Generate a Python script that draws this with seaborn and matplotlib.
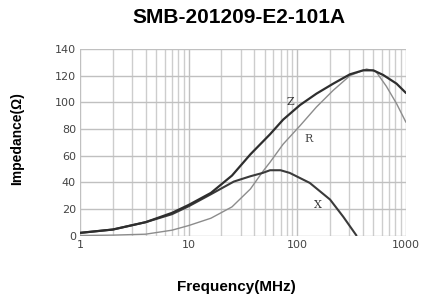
import numpy as np
import pandas as pd
import matplotlib
matplotlib.use("Agg")
import matplotlib.pyplot as plt
import seaborn as sns
from matplotlib.ticker import LogLocator, FixedLocator, NullFormatter

# 阻抗曲线数据
freq_z = [1, 2, 4, 7, 10, 16, 25, 37, 56, 74, 106, 150, 214, 305, 404, 500, 617, 819, 1000]
z_vals = [2, 4.5, 10, 17, 23, 32, 45, 61, 76, 87, 98, 106.5, 114, 121, 124, 124, 120.5, 114, 107]

freq_r = [1, 2, 4, 7, 10, 16, 25, 37, 48, 56, 74, 106, 150, 214, 305, 434, 530, 660, 819, 1000]
r_vals = [0, 0.3, 1, 4, 7.5, 13, 21.5, 35, 48, 55, 68.6, 82.5, 96.5, 109, 120, 125, 123, 112, 99, 85]

freq_x = [1, 2, 4, 7, 10, 16, 26, 37, 48, 56, 70, 85, 130, 200, 265, 350]
x_vals = [2, 4.5, 10, 16, 22, 31, 40.5, 44.5, 47, 49, 49, 47, 39.5, 27, 14, 0]

x_ticks = [1, 10, 100, 1000]
x_ticklabels = ["1", "10", "100", "1000"]
y_ticks = [0, 20, 40, 60, 80, 100, 120, 140]

sns.set_style("white")
plt.rcParams['font.family'] = ['DejaVu Sans']

fig = plt.figure(figsize=(4.22, 2.97), dpi=100)
ax = fig.add_axes([0.19, 0.207, 0.772, 0.628])

df_z = pd.DataFrame({"f": freq_z, "v": z_vals})
df_r = pd.DataFrame({"f": freq_r, "v": r_vals})
df_x = pd.DataFrame({"f": freq_x, "v": x_vals})

sns.lineplot(data=df_r, x="f", y="v", ax=ax, color="#8c8c8c", linewidth=1.0)
sns.lineplot(data=df_x, x="f", y="v", ax=ax, color="#3a3a3a", linewidth=1.5)
sns.lineplot(data=df_z, x="f", y="v", ax=ax, color="#2e2e2e", linewidth=1.6)

ax.set_xscale("log")
ax.set_xlim(1, 1000)
ax.set_ylim(0, 140)
ax.xaxis.set_major_locator(FixedLocator(x_ticks))
ax.set_xticklabels(x_ticklabels)
ax.xaxis.set_minor_locator(LogLocator(base=10, subs=np.arange(2, 10)))
ax.xaxis.set_minor_formatter(NullFormatter())
ax.set_yticks(y_ticks)
ax.grid(True, which="major", color="#c0c0c0", linewidth=1.0)
ax.grid(True, which="minor", axis="x", color="#cdcdcd", linewidth=1.0)
ax.set_axisbelow(True)
for s in ax.spines.values():
    s.set_visible(False)
ax.tick_params(axis="both", which="both", length=0, labelsize=8, labelcolor="#444444", pad=3)

# 曲线标注
ax.text(80, 98, "Z", family="DejaVu Serif", fontsize=8, color="#333333")
ax.text(115, 70, "R", family="DejaVu Serif", fontsize=8, color="#444444")
ax.text(142, 21, "X", family="DejaVu Serif", fontsize=8, color="#333333")

ax.set_xlabel("")
ax.set_ylabel("")
fig.text(0.566, 0.941, "SMB-201209-E2-101A", ha="center", va="center",
         fontsize=15, fontweight="bold", family="Liberation Sans", color="black")
fig.text(0.561, 0.034, "Frequency(MHz)", ha="center", va="center",
         fontsize=11, fontweight="bold", family="Liberation Sans", color="black")
fig.text(0.041, 0.535, "Impedance(Ω)", ha="center", va="center", rotation=90,
         fontsize=10, fontweight="bold", family="Liberation Sans", color="black")

fig.savefig("out.png", dpi=100)
